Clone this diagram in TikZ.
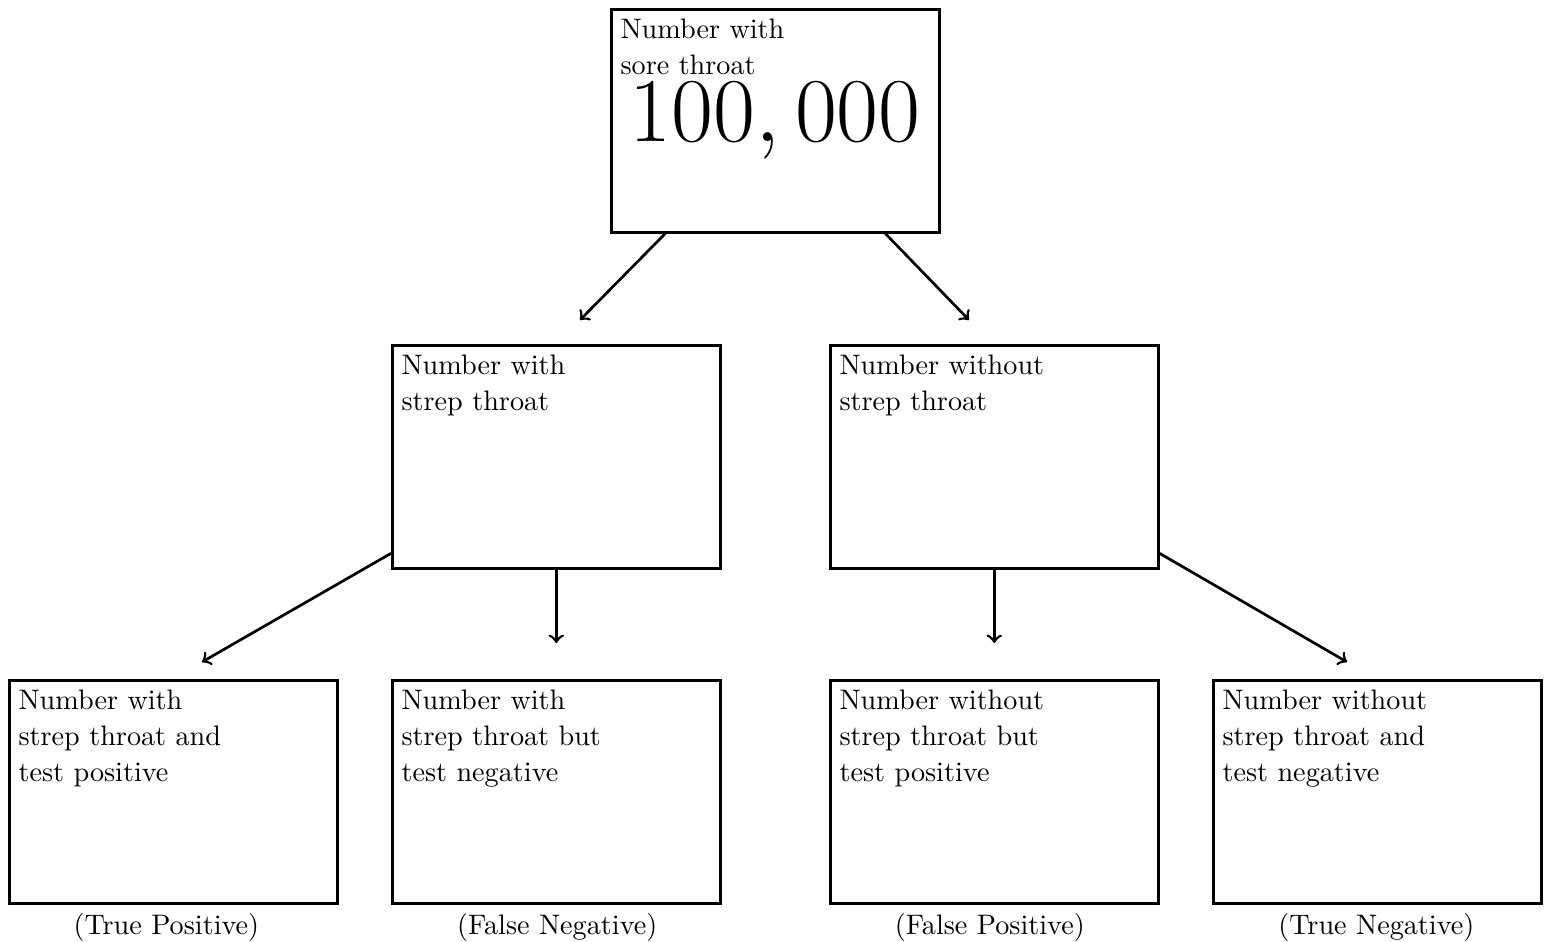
\documentclass[tikz,border=0pt]{standalone}
\usetikzlibrary{calc}
\begin{document}
\begin{tikzpicture}[x=0.33333pt,y=-0.33333pt,
  font=\fontsize{10}{12.77}\selectfont,
  box/.style={draw,line width=0.9pt,minimum width=109.3pt,minimum height=74.3pt,inner sep=0pt,anchor=north west},
  txt/.style={anchor=north west,align=left,inner sep=3.55pt,scale=0.94},
  caplabel/.style={anchor=base,scale=0.94},
  arr/.style={->,line width=0.9pt}]
\useasboundingbox (0,0) rectangle (1546,942);
% boxes
\node[box] (top) at (610,8) {};
\node[box] (ml) at (391,344) {};
\node[box] (mr) at (829,344) {};
\node[box] (b1) at (8,679) {};
\node[box] (b2) at (391,679) {};
\node[box] (b3) at (829,679) {};
\node[box] (b4) at (1212,679) {};
% texts
\node[txt] (topt) at (top.north west) {Number with\\sore throat};
\node[anchor=base,inner sep=0pt,scale=1.222] (topnum) at (775,142) {\Huge $100,000$};
\node[txt] (mlt) at (ml.north west) {Number with\\strep throat};
\node[txt] (mrt) at (mr.north west) {Number without\\strep throat};
\node[txt] (b1t) at (b1.north west) {Number with\\strep throat and\\test positive};
\node[txt] (b2t) at (b2.north west) {Number with\\strep throat but\\test negative};
\node[txt] (b3t) at (b3.north west) {Number without\\strep throat but\\test positive};
\node[txt] (b4t) at (b4.north west) {Number without\\strep throat and\\test negative};
% captions
\node[caplabel] (c1) at ([xshift=-2.3pt,yshift=-10pt]b1.south) {(True Positive)};
\node[caplabel] (c2) at ([xshift=0.3pt,yshift=-10pt]b2.south) {(False Negative)};
\node[caplabel] (c3) at ([xshift=-1.5pt,yshift=-10pt]b3.south) {(False Positive)};
\node[caplabel] (c4) at ([xshift=-0.3pt,yshift=-10pt]b4.south) {(True Negative)};
% arrow ends
\coordinate (e1) at (580,320);
\coordinate (e2) at (969,320);
\coordinate (e3) at (202,662);
\coordinate (e4) at (555,643);
\coordinate (e5) at (993,643);
\coordinate (e6) at (1347,662);
% arrows
\draw[arr] ($(top.south west)!0.167!(top.south east)$) -- (e1);
\draw[arr] ($(top.south west)!0.833!(top.south east)$) -- (e2);
\draw[arr] ($(ml.north west)!0.928!(ml.south west)$) -- (e3);
\draw[arr] (ml.south) -- (ml.south |- e4);
\draw[arr] (mr.south) -- (mr.south |- e5);
\draw[arr] ($(mr.north east)!0.928!(mr.south east)$) -- (e6);
\end{tikzpicture}
\end{document}
